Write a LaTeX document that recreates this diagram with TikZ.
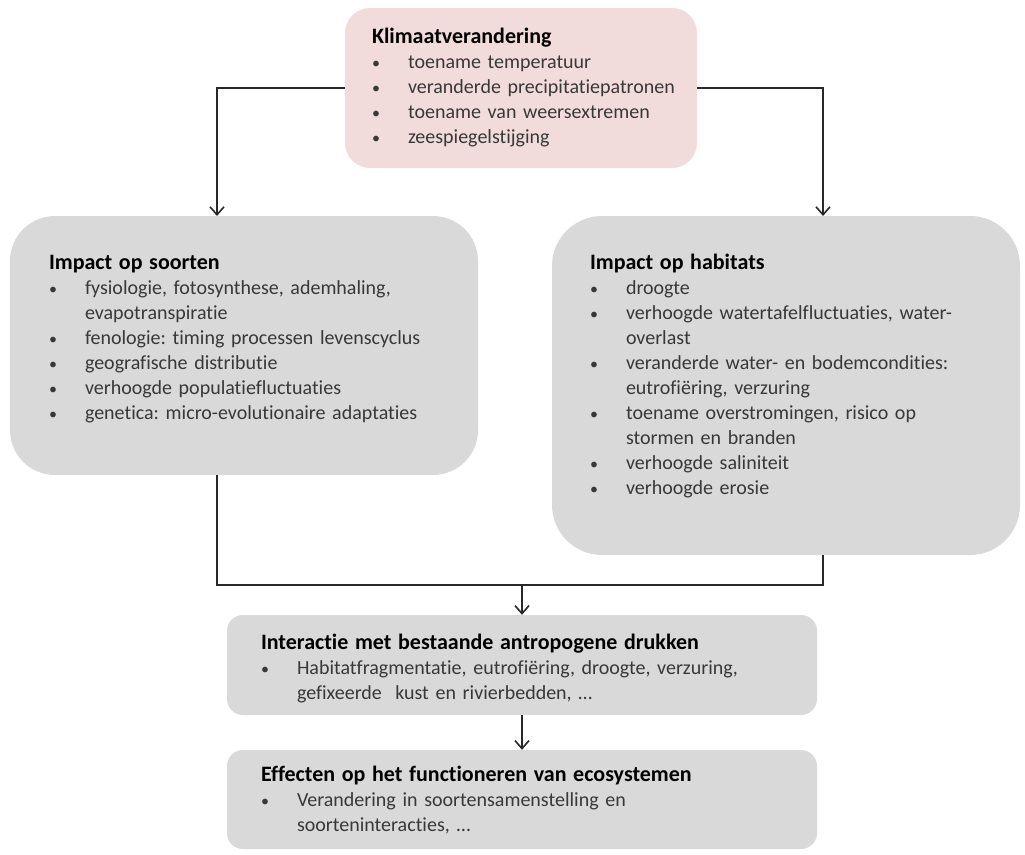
\documentclass[tikz,border=0pt]{standalone}
\usepackage{fontspec}
\setmainfont{Carlito}[Ligatures=NoCommon]
\usepackage{tikz}
\usetikzlibrary{arrows.meta}
\definecolor{klimaatroze}{RGB}{242,220,219}
\definecolor{vakgrijs}{RGB}{217,217,217}
\definecolor{tekstgrijs}{RGB}{56,56,56}
\definecolor{lijngrijs}{RGB}{40,40,40}
\frenchspacing
% bullet item with hanging indent
\newcommand{\itm}[1]{\par\noindent\hangindent=36pt\hangafter=1\makebox[36pt][l]{\scalebox{0.8}{\textbullet}}#1\par}
% box title
\newcommand{\kop}[1]{{\fontsize{22}{25}\selectfont\color{black}\textbf{#1}}}

\begin{document}
\begin{tikzpicture}[
    x=1pt, y=-1pt,
    vak/.style={rectangle, draw=none, fill=vakgrijs, inner sep=0pt},
    rozevak/.style={rectangle, draw=none, fill=klimaatroze, inner sep=0pt,
                    rounded corners=25pt},
    tekst/.style={anchor=north west, inner sep=0pt, text width=520pt, align=left,
                  font=\fontsize{20}{25}\selectfont, text=tekstgrijs},
    lijn/.style={draw=lijngrijs, line width=1.6pt},
    pijl/.style={lijn, -{Straight Barb[length=8pt,width=14pt,line width=1.6pt]}}
]
\useasboundingbox (0,0) rectangle (1025,854);

% Top box
\node[rozevak, minimum width=352pt, minimum height=160pt] (klimaat) at (521,88) {};
\node[tekst, xshift=27pt, yshift=-20pt] (klimaatTxt) at (klimaat.north west) {
    \kop{Klimaatverandering}
    \itm{toename temperatuur}
    \itm{veranderde precipitatiepatronen}
    \itm{toename van weersextremen}
    \itm{zeespiegelstijging}
};

% Impact boxes
\node[vak, rounded corners=45pt, minimum width=468pt, minimum height=259pt] (soorten) at (244,345.5) {};
\node[tekst, xshift=39pt, yshift=-39pt] (soortenTxt) at (soorten.north west) {
    \kop{Impact op soorten}
    \itm{fysiologie, fotosynthese, ademhaling,\newline evapotranspiratie}
    \itm{fenologie: timing processen levenscyclus}
    \itm{geografische distributie}
    \itm{verhoogde populatiefluctuaties}
    \itm{genetica: micro-evolutionaire adaptaties}
};

\node[vak, rounded corners=50pt, minimum width=468pt, minimum height=339pt] (habitats) at (786,385.5) {};
\node[tekst, xshift=38pt, yshift=-38pt] (habitatsTxt) at (habitats.north west) {
    \kop{Impact op habitats}
    \itm{droogte}
    \itm{verhoogde watertafelfluctuaties, water-\newline overlast}
    \itm{veranderde water- en bodemcondities:\newline eutrofiëring, verzuring}
    \itm{toename overstromingen, risico op\newline stormen en branden}
    \itm{verhoogde saliniteit}
    \itm{verhoogde erosie}
};

% Bottom boxes
\node[vak, rounded corners=16pt, minimum width=590pt, minimum height=100pt] (interactie) at (522,665) {};
\node[tekst, xshift=34pt, yshift=-19pt] (interactieTxt) at (interactie.north west) {
    \kop{Interactie met bestaande antropogene drukken}
    \itm{Habitatfragmentatie, eutrofiëring, droogte, verzuring,\newline gefixeerde\ \ kust en rivierbedden, \dots}
};

\node[vak, rounded corners=16pt, minimum width=590pt, minimum height=99pt] (effecten) at (522,799.5) {};
\node[tekst, xshift=34pt, yshift=-16pt] (effectenTxt) at (effecten.north west) {
    \kop{Effecten op het functioneren van ecosystemen}
    \itm{Verandering in soortensamenstelling en\newline soorteninteracties, \dots}
};

% Connectors
\coordinate (soortenIn) at (217,216);
\coordinate (habitatsIn) at (823,216);
\coordinate (soortenUit) at (217,475);
\coordinate (habitatsUit) at (823,555);
\coordinate (samen) at (522,585);

\draw[pijl] (klimaat.west) -| (soortenIn);
\draw[pijl] (klimaat.east) -| (habitatsIn);
\draw[lijn] (soortenUit) |- (samen) -| (habitatsUit);
\draw[pijl] (samen) -- (interactie.north);
\draw[pijl] (interactie.south) -- (effecten.north);

\end{tikzpicture}
\end{document}
